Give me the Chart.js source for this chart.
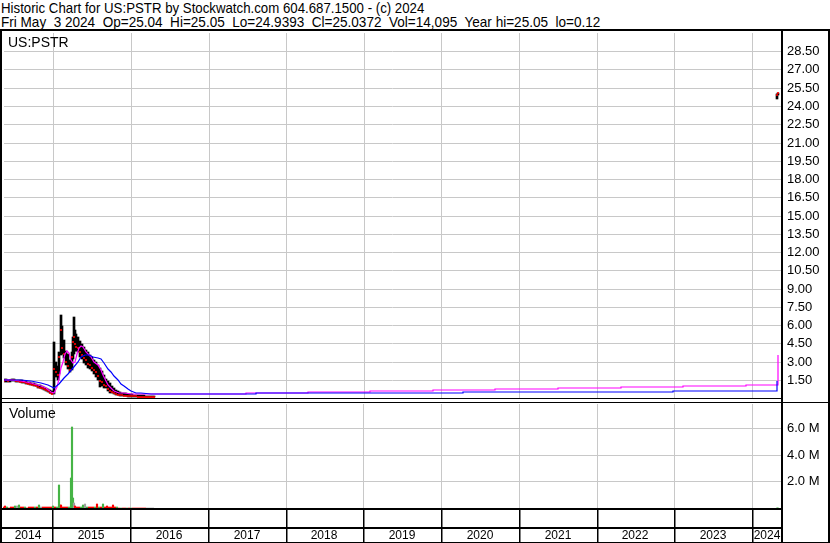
<!DOCTYPE html>
<html>
<head>
<meta charset="utf-8">
<script src="https://cdn.jsdelivr.net/npm/chart.js@4"></script>
<style>
  body { margin: 0; background: #fff; }
  #wrap { position: relative; width: 830px; height: 543px; overflow: hidden; background: #fff; }
  #head { position: absolute; left: 1px; top: 1px; font: 15px/14px "Liberation Sans", Arial, sans-serif; white-space: pre; color: #000; }
  .hl { display: inline-block; transform-origin: 0 0; }
  canvas { position: absolute; left: 0; }
  #price { top: 29px; }
  #volume { top: 402px; }
  .lab { position: absolute; font: 14px/16px "Liberation Sans", Arial, sans-serif; color: #000; }
</style>
</head>
<body>
<div id="wrap">
  <div id="head"><span class="hl" id="h1">Historic Chart for US:PSTR by Stockwatch.com 604.687.1500 - (c) 2024</span><br><span class="hl" id="h2">Fri May  3 2024  Op=25.04  Hi=25.05  Lo=24.9393  Cl=25.0372  Vol=14,095  Year hi=25.05  lo=0.12</span></div>
  <canvas id="price" width="830" height="373"></canvas>
  <canvas id="volume" width="830" height="141"></canvas>
  <div class="lab" style="left:8px; top:34px;">US:PSTR</div>
  <div class="lab" style="left:9px; top:405px;">Volume</div>
</div>
<script>
// daily bars (decimal years)
var barYears = [2014.366, 2014.392, 2014.418, 2014.443, 2014.469, 2014.495, 2014.520, 2014.546, 2014.572, 2014.598,
    2014.623, 2014.649, 2014.675, 2014.700, 2014.726, 2014.752, 2014.778, 2014.803, 2014.829, 2014.855,
    2014.880, 2014.906, 2014.932, 2014.958, 2014.983,
    2015.009, 2015.035, 2015.060, 2015.080, 2015.099, 2015.118, 2015.138, 2015.163, 2015.189, 2015.215,
    2015.240, 2015.253, 2015.266, 2015.279, 2015.298,
    2015.318, 2015.343, 2015.369, 2015.395, 2015.420, 2015.446, 2015.472, 2015.498, 2015.523, 2015.549,
    2015.575, 2015.600, 2015.626, 2015.652, 2015.678, 2015.703, 2015.729, 2015.755, 2015.780, 2015.806,
    2015.832, 2015.858, 2015.883, 2015.909, 2015.935, 2015.960, 2015.986, 2016.012, 2016.037, 2016.063,
    2016.089, 2016.115, 2016.140, 2016.166, 2016.192, 2016.217, 2016.243, 2016.269, 2016.295,
    2024.324, 2024.337];
var barLows = [1.30, 1.35, 1.30, 1.35, 1.40, 1.38, 1.35, 1.32, 1.30, 1.25,
    1.20, 1.16, 1.12, 1.10, 1.05, 1.00, 0.95, 0.86, 0.80, 0.74,
    0.68, 0.58, 0.48, 0.40, 0.30,
    0.30, 1.70, 1.50, 2.00, 3.50, 3.60, 3.30, 2.70, 2.40, 2.10,
    2.30, 3.20, 3.60, 3.90, 3.90,
    3.80, 3.40, 3.20, 2.90, 2.70, 2.50, 2.40, 2.20, 1.95, 1.75,
    1.50, 0.90, 1.00, 0.85, 0.80, 0.55, 0.45, 0.40, 0.35, 0.25,
    0.22, 0.20, 0.18, 0.15, 0.15, 0.12, 0.12, 0.10, 0.10, 0.10,
    0.08, 0.08, 0.08, 0.08, 0.06, 0.06, 0.06, 0.05, 0.05,
    24.55, 24.94];
var barHighs = [1.55, 1.55, 1.50, 1.52, 1.56, 1.55, 1.52, 1.50, 1.46, 1.44,
    1.40, 1.36, 1.32, 1.30, 1.26, 1.22, 1.16, 1.10, 1.06, 1.00,
    0.94, 0.86, 0.76, 0.66, 0.56,
    4.60, 3.00, 2.60, 3.80, 6.80, 5.90, 4.80, 3.90, 3.60, 3.10,
    3.80, 5.00, 6.65, 5.60, 5.30,
    5.00, 4.70, 4.40, 4.20, 3.95, 3.75, 3.55, 3.35, 3.15, 2.95,
    2.70, 2.50, 2.20, 1.90, 1.60, 1.40, 1.20, 0.95, 0.80, 0.65,
    0.55, 0.50, 0.45, 0.40, 0.38, 0.35, 0.32, 0.30, 0.28, 0.28,
    0.25, 0.25, 0.22, 0.22, 0.20, 0.20, 0.18, 0.16, 0.15,
    24.95, 25.05];
var barCloses = [1.38, 1.45, 1.36, 1.45, 1.48, 1.44, 1.40, 1.42, 1.34, 1.30,
    1.28, 1.22, 1.18, 1.14, 1.10, 1.05, 1.00, 0.92, 0.86, 0.80,
    0.74, 0.64, 0.55, 0.45, 0.36,
    2.40, 2.10, 1.90, 3.40, 5.60, 4.10, 3.60, 3.00, 2.60, 2.30,
    3.40, 4.60, 5.00, 4.40, 4.20,
    4.10, 3.80, 3.50, 3.30, 3.10, 2.80, 2.70, 2.50, 2.30, 2.10,
    1.80, 1.40, 1.30, 1.10, 1.00, 0.70, 0.55, 0.50, 0.42, 0.32,
    0.28, 0.25, 0.22, 0.20, 0.20, 0.18, 0.16, 0.15, 0.14, 0.13,
    0.12, 0.12, 0.11, 0.11, 0.10, 0.10, 0.09, 0.08, 0.08,
    24.90, 25.04];
var volumeMillions = [0.05, 0.12, 0.04, 0.03, 0.08, 0.10, 0.12, 0.17, 0.20, 0.06,
    0.04, 0.05, 0.03, 0.04, 0.06, 0.10, 0.08, 0.05, 0.20, 0.10,
    0.06, 0.04, 0.10, 0.08, 0.05,
    0.15, 0.08, 0.10, 1.72, 0.26, 0.22, 0.08, 0.05, 0.04, 0.06,
    2.27, 6.08, 0.72, 0.35, 0.12,
    0.06, 0.08, 0.05, 0.26, 0.33, 0.10, 0.05, 0.06, 0.04, 0.05,
    0.33, 0.10, 0.08, 0.33, 0.10, 0.15, 0.05, 0.10, 0.26, 0.05,
    0.04, 0.03, 0.03, 0.02, 0.03, 0.02, 0.03, 0.02, 0.02, 0.03,
    0.02, 0.02, 0.03, 0.02, 0.03, 0.02, 0.02, 0.02, 0.02,
    0.03, 0.014];
// u = up day, d = down day, f = unchanged
var moveDir = ['d', 'd', 'u', 'd', 'd', 'd', 'u', 'f', 'u', 'd',
    'd', 'u', 'd', 'd', 'd', 'd', 'u', 'd', 'u', 'f',
    'd', 'd', 'd', 'd', 'd',
    'u', 'd', 'u', 'u', 'u', 'd', 'd', 'd', 'd', 'u',
    'u', 'u', 'u', 'f', 'd',
    'd', 'd', 'u', 'u', 'f', 'u', 'd', 'd', 'd', 'u',
    'd', 'u', 'd', 'u', 'd', 'd', 'd', 'd', 'd', 'd',
    'u', 'd', 'u', 'd', 'd', 'u', 'd', 'u', 'd', 'd',
    'd', 'd', 'd', 'd', 'd', 'f', 'f', 'f', 'f',
    'u', 'u'];

// short moving average (magenta)
var maShortYears = [2014.366, 2014.456, 2014.585, 2014.713, 2014.842, 2014.906, 2014.970, 2015.009, 2015.048, 2015.073,
    2015.099, 2015.125, 2015.150, 2015.176, 2015.202, 2015.228, 2015.253, 2015.279, 2015.305, 2015.330,
    2015.356, 2015.382, 2015.420, 2015.459, 2015.485, 2015.523, 2015.575, 2015.613, 2015.639, 2015.678,
    2015.703, 2015.742, 2015.780, 2015.845, 2015.909, 2015.999, 2016.128, 2016.256];
var maShort = [1.45, 1.46, 1.40, 1.24, 1.00, 0.80, 0.52, 0.45, 0.90, 1.60,
    2.50, 3.00, 3.60, 3.90, 3.70, 3.10, 2.85, 3.00, 3.60, 4.10,
    4.30, 4.20, 3.80, 3.50, 3.35, 3.00, 2.70, 2.30, 1.90, 1.40,
    1.10, 0.80, 0.56, 0.45, 0.37, 0.32, 0.31, 0.30];
var maShortStepYears = [2016.256, 2017.478, 2018.275, 2019.085, 2019.895, 2020.692, 2021.502, 2022.312, 2023.109, 2023.919, 2024.330];
var maShortStep = [0.30, 0.40, 0.48, 0.56, 0.64, 0.72, 0.80, 0.88, 0.96, 1.07, 3.50];

// long moving average (blue)
var maLongYears = [2014.366, 2014.585, 2014.713, 2014.842, 2014.932, 2015.009, 2015.073, 2015.138, 2015.189, 2015.253,
    2015.318, 2015.356, 2015.408, 2015.459, 2015.511, 2015.575, 2015.613, 2015.652, 2015.703, 2015.742,
    2015.780, 2015.832, 2015.870, 2015.909, 2015.960, 2015.999, 2016.063, 2016.128, 2016.256];
var maLong = [1.50, 1.44, 1.36, 1.25, 1.05, 0.83, 1.15, 1.64, 2.00, 2.45,
    2.95, 3.35, 3.55, 3.50, 3.40, 3.30, 3.20, 2.85, 2.40, 2.15,
    1.80, 1.45, 1.15, 0.96, 0.72, 0.56, 0.45, 0.37, 0.32];
var maLongStepYears = [2016.256, 2017.606, 2020.280, 2022.980, 2024.324];
var maLongStep = [0.32, 0.40, 0.48, 0.56, 1.37];

// axis ticks
var yearLines = [2015, 2016, 2017, 2018, 2019, 2020, 2021, 2022, 2023, 2024];
var yearLabels = [2014, 2015, 2016, 2017, 2018, 2019, 2020, 2021, 2022, 2023, 2024];
var priceTicks = [1.5, 3, 4.5, 6, 7.5, 9, 10.5, 12, 13.5, 15, 16.5, 18, 19.5, 21, 22.5, 24, 25.5, 27, 28.5];
var volumeTicks = [2, 4, 6];

var xMin = 2014.366, xMax = 2024.372;
var gridColor = '#c8c8c8';
var tickFont = { family: 'Liberation Sans', size: 13 };

// squeeze header lines to the original widths
function fitLine(id, w) {
    var el = document.getElementById(id);
    el.style.transform = 'scaleX(' + (w / el.offsetWidth) + ')';
}
fitLine('h1', 423);
fitLine('h2', 599);

function pts(xs, ys) {
    return xs.map(function(x, i) { return { x: x, y: ys[i] }; });
}

// no automatic label padding, the plot area is set by layout padding only
function noPad(s) {
    s.paddingLeft = 0; s.paddingRight = 0; s.paddingTop = 0; s.paddingBottom = 0;
}

var labelTicks = yearLabels.map(function(y) {
    return (Math.max(y, xMin) + Math.min(y + 1, xMax)) / 2;
});

var priceFrame = {
    id: 'priceFrame',
    afterDraw: function(chart) {
        var ctx = chart.ctx, a = chart.chartArea;
        ctx.save();
        ctx.fillStyle = '#000';
        ctx.fillRect(0, 0, chart.width, 2);
        ctx.fillRect(0, 0, 2, chart.height);
        ctx.fillRect(a.right, 0, 2, chart.height);
        ctx.fillRect(chart.width - 2, 0, 2, chart.height);
        ctx.fillRect(0, a.bottom, a.right, 1);
        ctx.restore();
    }
};

var volumeFrame = {
    id: 'volumeFrame',
    afterDraw: function(chart) {
        var ctx = chart.ctx, a = chart.chartArea, xs = chart.scales.x;
        ctx.save();
        ctx.fillStyle = '#000';
        ctx.fillRect(0, 0, chart.width, 1);
        ctx.fillRect(0, 0, 2, chart.height);
        ctx.fillRect(a.right, 0, 2, chart.height);
        ctx.fillRect(chart.width - 2, 0, 2, chart.height);
        ctx.fillRect(0, a.bottom, a.right, 2);
        ctx.fillRect(0, a.bottom + 19, a.right, 2);
        ctx.fillRect(0, chart.height - 1, chart.width, 1);
        yearLines.forEach(function(y) {
            var px = Math.round(xs.getPixelForValue(y));
            ctx.fillRect(px, a.bottom, 1.5, chart.height - a.bottom);
        });
        ctx.restore();
    }
};

var lineStyle = { pointRadius: 0, borderWidth: 1.2, fill: false, tension: 0 };

new Chart(document.getElementById('price').getContext('2d'), {
    type: 'bar',
    data: {
        datasets: [
            Object.assign({ type: 'line', data: pts(maLongStepYears, maLongStep), borderColor: '#0000ff', stepped: 'before', order: 1 }, lineStyle),
            Object.assign({ type: 'line', data: pts(maLongYears, maLong), borderColor: '#0000ff', order: 1 }, lineStyle),
            Object.assign({ type: 'line', data: pts(maShortStepYears, maShortStep), borderColor: '#ff00ff', stepped: 'before', order: 2 }, lineStyle),
            Object.assign({ type: 'line', data: pts(maShortYears, maShort), borderColor: '#ff00ff', order: 2 }, lineStyle),
            {
                type: 'line',
                data: pts(barYears, barCloses),
                showLine: false,
                pointRadius: 1.1,
                pointBorderWidth: 0,
                pointBackgroundColor: '#ff0000',
                order: 3
            },
            {
                type: 'bar',
                data: barYears.map(function(x, i) { return { x: x, y: [barLows[i], barHighs[i]] }; }),
                backgroundColor: '#000',
                barThickness: 2,
                grouped: false,
                order: 4
            }
        ]
    },
    options: {
        responsive: false,
        animation: false,
        events: [],
        layout: { padding: { left: 3, top: 2, bottom: 2, right: 0 } },
        scales: {
            x: {
                type: 'linear',
                min: xMin,
                max: xMax,
                offset: false,
                alignToPixels: true,
                afterBuildTicks: function(s) { s.ticks = yearLines.map(function(v) { return { value: v }; }); },
                grid: { color: gridColor, drawTicks: false, offset: false },
                ticks: { display: false },
                border: { display: false },
                afterFit: function(s) { s.height = 0; noPad(s); }
            },
            y: {
                position: 'right',
                min: 0,
                max: 30,
                alignToPixels: true,
                afterBuildTicks: function(s) { s.ticks = priceTicks.map(function(v) { return { value: v }; }); },
                grid: { color: gridColor, drawTicks: false },
                border: { display: false },
                ticks: {
                    padding: 6,
                    color: '#000',
                    font: tickFont,
                    callback: function(v) { return v.toFixed(2); }
                },
                afterFit: function(s) { s.width = 49; noPad(s); }
            }
        },
        plugins: {
            legend: { display: false },
            tooltip: { enabled: false }
        }
    },
    plugins: [priceFrame]
});

new Chart(document.getElementById('volume').getContext('2d'), {
    type: 'bar',
    data: {
        datasets: [{
            data: pts(barYears, volumeMillions),
            backgroundColor: moveDir.map(function(d) {
                return d === 'u' ? '#46b446' : (d === 'd' ? '#ff0000' : '#a0a0a0');
            }),
            barThickness: 1.5,
            grouped: false
        }]
    },
    options: {
        responsive: false,
        animation: false,
        events: [],
        layout: { padding: { left: 3, top: 2, bottom: 0, right: 0 } },
        scales: {
            x: {
                type: 'linear',
                min: xMin,
                max: xMax,
                offset: false,
                alignToPixels: true,
                afterBuildTicks: function(s) {
                    s.ticks = yearLines.concat(labelTicks).sort(function(a, b) { return a - b; })
                        .map(function(v) { return { value: v }; });
                },
                grid: {
                    drawTicks: false,
                    offset: false,
                    color: function(c) {
                        return c.tick && Number.isInteger(c.tick.value) ? gridColor : 'rgba(0,0,0,0)';
                    }
                },
                border: { display: false },
                ticks: {
                    autoSkip: false,
                    maxRotation: 0,
                    padding: 20,
                    color: '#000',
                    font: { family: 'Liberation Sans', size: 12 },
                    callback: function(v) { return Number.isInteger(v) ? '' : String(Math.floor(v)); }
                },
                afterFit: function(s) { s.height = 35; noPad(s); }
            },
            y: {
                position: 'right',
                min: 0,
                max: 7.83,
                alignToPixels: true,
                afterBuildTicks: function(s) { s.ticks = volumeTicks.map(function(v) { return { value: v }; }); },
                grid: { color: gridColor, drawTicks: false },
                border: { display: false },
                ticks: {
                    padding: 6,
                    color: '#000',
                    font: tickFont,
                    callback: function(v) { return v.toFixed(1) + ' M'; }
                },
                afterFit: function(s) { s.width = 49; noPad(s); }
            }
        },
        plugins: {
            legend: { display: false },
            tooltip: { enabled: false }
        }
    },
    plugins: [volumeFrame]
});
</script>
</body>
</html>
